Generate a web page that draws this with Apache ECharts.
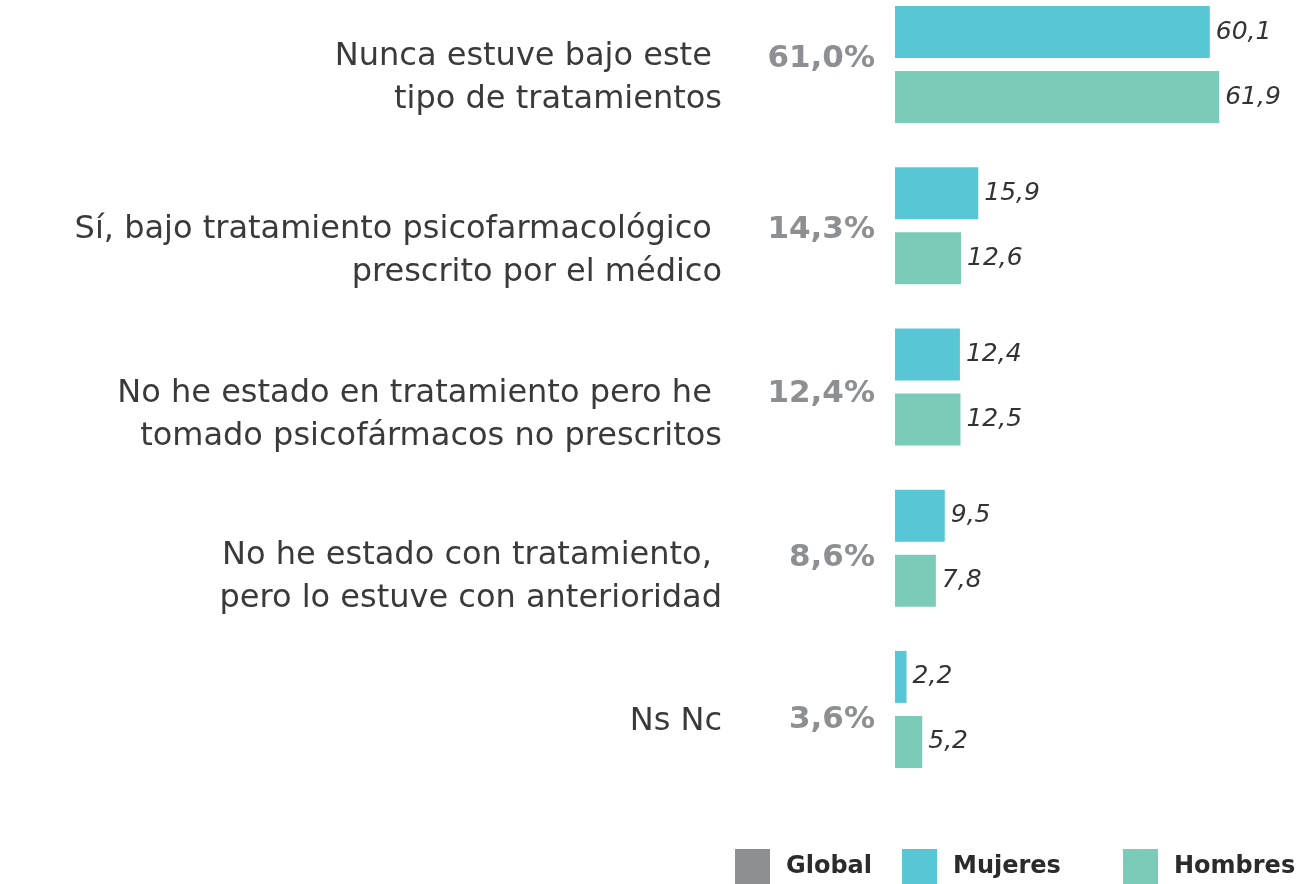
<!DOCTYPE html>
<html>
<head>
<meta charset="utf-8">
<script src="https://cdn.jsdelivr.net/npm/echarts@6/dist/echarts.min.js"></script>
<style>
  html, body { margin: 0; padding: 0; background: #fff; }
  #main { width: 1315px; height: 884px; }
</style>
</head>
<body>
<div id="main"></div>
<script>
var categories = [
    'Nunca estuve bajo este \ntipo de tratamientos',
    'Sí, bajo tratamiento psicofarmacológico \nprescrito por el médico',
    'No he estado en tratamiento pero he \ntomado psicofármacos no prescritos',
    'No he estado con tratamiento, \npero lo estuve con anterioridad',
    'Ns Nc'
];
var globalLabels = ['61,0%', '14,3%', '12,4%', '8,6%', '3,6%'];
var mujeres = [60.1, 15.9, 12.4, 9.5, 2.2];
var hombres = [61.9, 12.6, 12.5, 7.8, 5.2];

// small vertical nudges of the text, as in the original layout
var labelShift = [14, 25, 28, 29, 12];
var globalShift = [-6, 4, 7, 10, 11];

var FONT = '"DejaVu Sans", "Noto Sans", sans-serif';

// an invisible spacer line above (or below) the text moves it down (or up)
function gapRich(shifts) {
    var rich = {};
    shifts.forEach(function (s, i) {
        rich['g' + i] = { fontSize: 1, lineHeight: Math.max(1, 2 * Math.abs(s)) };
    });
    return rich;
}
function nudge(text, i, shifts) {
    var s = shifts[i];
    if (!s) return text;
    var gap = '{g' + i + '| }';
    return s > 0 ? gap + '\n' + text : text + '\n' + gap;
}

var myChart = echarts.init(document.getElementById('main'));

var valueLabel = {
    show: true,
    position: 'right',
    distance: 6,
    fontFamily: FONT,
    fontStyle: 'italic',
    fontWeight: 300,
    fontSize: 25,
    color: '#333',
    formatter: function (p) {
        return String(p.value).replace('.', ',');
    }
};

var legendText = {
    fontFamily: FONT,
    fontWeight: 'bold',
    fontSize: 24,
    color: '#2b2b2b',
    padding: [0, 0, 0, 11]
};

var option = {
    backgroundColor: '#fff',
    animation: false,
    grid: {
        left: 895,
        top: -16,
        height: 806,
        width: 419,
        containLabel: false,
        outerBoundsMode: 'none'
    },
    xAxis: {
        type: 'value',
        min: 0,
        max: 80,
        show: false
    },
    yAxis: [
        {
            type: 'category',
            inverse: true,
            data: categories,
            axisLine: { show: false },
            axisTick: { show: false },
            axisLabel: {
                margin: 173,
                align: 'right',
                fontFamily: FONT,
                fontSize: 32,
                lineHeight: 43,
                color: '#3a3a3a',
                formatter: function (v, i) { return nudge(v, i, labelShift); },
                rich: gapRich(labelShift)
            }
        },
        {
            type: 'category',
            inverse: true,
            position: 'left',
            data: globalLabels,
            axisLine: { show: false },
            axisTick: { show: false },
            axisLabel: {
                margin: 20,
                align: 'right',
                fontFamily: FONT,
                fontWeight: 'bold',
                fontSize: 31,
                lineHeight: 36,
                color: '#8e8f93',
                formatter: function (v, i) { return nudge(v, i, globalShift); },
                rich: gapRich(globalShift)
            }
        }
    ],
    legend: [
        {
            left: 735,
            top: 849,
            icon: 'rect',
            itemWidth: 35,
            itemHeight: 35,
            itemGap: 30,
            padding: 0,
            textStyle: legendText,
            data: ['Global', 'Mujeres']
        },
        {
            left: 1123,
            top: 849,
            icon: 'rect',
            itemWidth: 35,
            itemHeight: 35,
            padding: 0,
            textStyle: legendText,
            data: ['Hombres']
        }
    ],
    series: [
        {
            name: 'Global',
            type: 'line',
            data: [],
            itemStyle: { color: '#8e8f93' }
        },
        {
            name: 'Mujeres',
            type: 'bar',
            yAxisIndex: 0,
            barWidth: 52,
            barGap: '25%',
            data: mujeres,
            itemStyle: { color: '#58c7d5' },
            label: valueLabel
        },
        {
            name: 'Hombres',
            type: 'bar',
            yAxisIndex: 0,
            barWidth: 52,
            barGap: '25%',
            data: hombres,
            itemStyle: { color: '#7acbb8' },
            label: valueLabel
        }
    ]
};

myChart.setOption(option);
</script>
</body>
</html>
